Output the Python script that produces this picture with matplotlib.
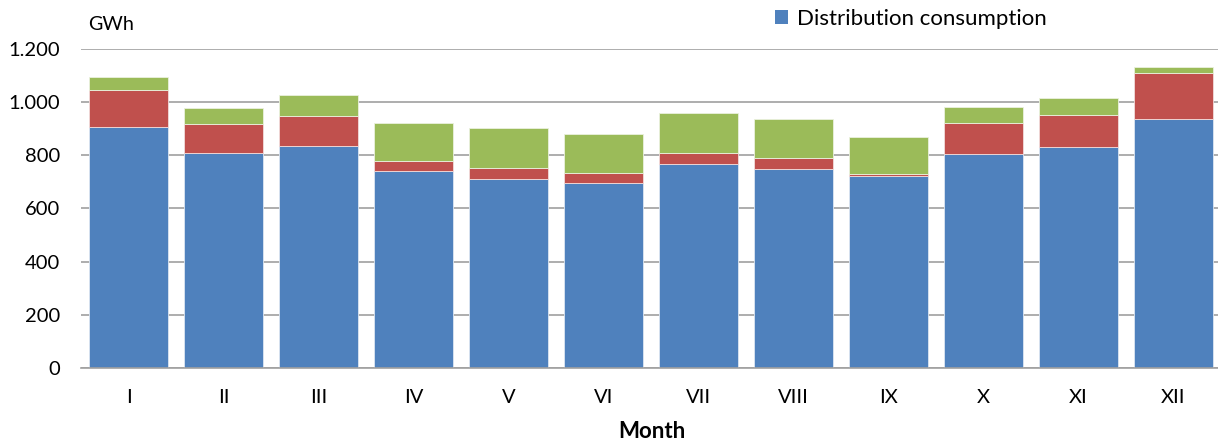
import matplotlib
matplotlib.use("Agg")
import matplotlib.pyplot as plt
from matplotlib.patches import Patch

months = ["I", "II", "III", "IV", "V", "VI", "VII", "VIII", "IX", "X", "XI", "XII"]
distribution = [906, 808, 833, 739, 709, 694, 767, 748, 723, 803, 832, 935]
second_series = [140, 110, 115, 40, 44, 40, 42, 41, 6, 118, 120, 174]
third_series = [48, 58, 77, 142, 148, 146, 149, 147, 139, 61, 61, 22]
yticks = [0, 200, 400, 600, 800, 1000, 1200]
ytick_labels = ["0", "200", "400", "600", "800", "1.000", "1.200"]

plt.rcParams['font.family'] = ['Lato', 'DejaVu Sans']

W, H = 1218, 441
fig = plt.figure(figsize=(W / 100, H / 100), dpi=100)
ax = fig.add_axes([81 / W, 1 - 368 / H, 1140 / W, (368 - 48.7) / H])

blue, red, green = "#4F81BD", "#C0504D", "#9BBB59"
x = list(range(len(months)))
bottom2 = [a for a in distribution]
bottom3 = [a + b for a, b in zip(distribution, second_series)]
ax.bar(x, distribution, width=0.83, color=blue, edgecolor="#dce6f2", linewidth=0.6, zorder=3)
ax.bar(x, second_series, bottom=bottom2, width=0.83, color=red, edgecolor="#f2dcdb", linewidth=0.6, zorder=3)
ax.bar(x, third_series, bottom=bottom3, width=0.83, color=green, edgecolor="#ebf1de", linewidth=0.6, zorder=3)

ax.set_xlim(-0.5, 11.5)
ax.set_ylim(0, 1200)
ax.set_yticks(yticks)
ax.set_yticklabels(ytick_labels)
ax.set_xticks(x)
ax.set_xticklabels(months)
ax.yaxis.grid(True, color="#a0a0a0", linewidth=1.2, zorder=0)
ax.set_axisbelow(True)
for s in ["left", "right", "top"]:
    ax.spines[s].set_visible(False)
ax.spines["bottom"].set_color("#a0a0a0")
ax.spines["bottom"].set_linewidth(1.2)
ax.spines["bottom"].set_zorder(4)
ax.tick_params(axis="both", length=0, labelsize=14.5, colors="#000000")
ax.tick_params(axis="x", pad=15)
ax.tick_params(axis="y", pad=15)

fig.text(88 / W, 1 - 25 / H, "GWh", fontsize=14.2, va="center", ha="left")
fig.text(652 / W, 1 - 431 / H, "Month", fontsize=16, fontweight="bold", va="center", ha="center")

leg = fig.legend(handles=[Patch(facecolor=blue, label="Distribution consumption")],
                 loc="center left", bbox_to_anchor=(775 / W, 1 - 19 / H), frameon=False,
                 fontsize=16, handlelength=0.6, handleheight=0.6, handletextpad=0.4,
                 borderaxespad=0, borderpad=0)

fig.savefig("out.png", dpi=100)
